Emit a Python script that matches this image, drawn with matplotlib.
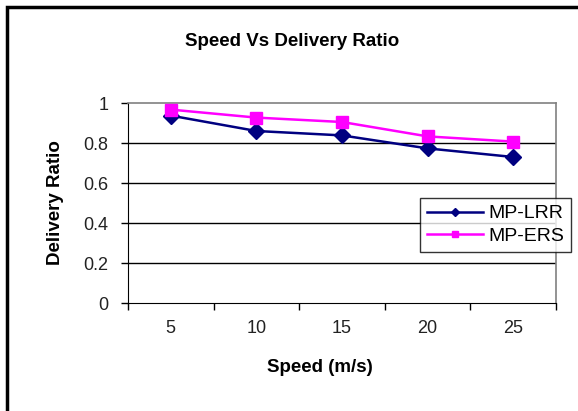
import matplotlib
matplotlib.use("Agg")
import matplotlib.pyplot as plt
from matplotlib.patches import Rectangle

speeds = ["5", "10", "15", "20", "25"]
mp_lrr = [0.937, 0.86, 0.838, 0.773, 0.73]
mp_ers = [0.967, 0.927, 0.905, 0.833, 0.807]
y_ticks = [0, 0.2, 0.4, 0.6, 0.8, 1]

plt.rcParams['font.family'] = ['Liberation Sans', 'DejaVu Sans']

W, H = 578, 411
fig = plt.figure(figsize=(W / 100, H / 100), dpi=100)
fig.patch.set_facecolor("white")

# outer black frame (runs off the right and bottom edges)
fig.patches.append(Rectangle((7 / W, -0.05), 1.1, 1 - 7 / H + 0.05,
                             transform=fig.transFigure, fill=False,
                             edgecolor="black", linewidth=2.5, zorder=0))

ax = fig.add_axes([128 / W, 1 - 303 / H, (556 - 128) / W, (303 - 103) / H])
x = list(range(len(speeds)))

ax.plot(x, mp_lrr, color="#000080", linewidth=1.8, marker="D", markersize=8,
        label="MP-LRR", zorder=3)
ax.plot(x, mp_ers, color="#FF00FF", linewidth=1.8, marker="s", markersize=9,
        label="MP-ERS", zorder=3)

ax.set_xlim(-0.5, len(speeds) - 0.5)
ax.set_ylim(0, 1)
ax.set_yticks(y_ticks)
ax.set_yticklabels([f"{v:g}" for v in y_ticks], fontsize=13, color="#222222")
ax.set_xticks(x)
ax.set_xticklabels(speeds, fontsize=13, color="#222222")
ax.tick_params(axis="x", length=0, pad=12)
ax.tick_params(axis="y", length=5, width=1, color="black", pad=9)
# category separators on the x axis
ax.set_xticks([i - 0.5 for i in range(len(speeds) + 1)], minor=True)
ax.tick_params(axis="x", which="minor", length=5, width=1, color="black", direction="out")

for v in y_ticks[1:-1]:
    ax.axhline(v, color="black", linewidth=1, zorder=1)

for side in ["top", "right"]:
    ax.spines[side].set_color("#808080")
    ax.spines[side].set_linewidth(1.2)
ax.spines["left"].set_color("black")
ax.spines["bottom"].set_color("black")

fig.text(292 / W, 1 - 41 / H, "Speed Vs Delivery Ratio", ha="center", va="center",
         fontsize=13.5, fontweight="bold")
fig.text(320 / W, 1 - 367 / H, "Speed (m/s)", ha="center", va="center",
         fontsize=13.5, fontweight="bold")
fig.text(55 / W, 1 - 203 / H, "Delivery Ratio", ha="center", va="center",
         rotation=90, fontsize=13.5, fontweight="bold")

leg = fig.legend(loc="upper left", bbox_to_anchor=(420 / W, 1 - 198 / H),
                 borderaxespad=0, fontsize=14, frameon=True, fancybox=False,
                 edgecolor="black", markerscale=0.5, handlelength=2.9,
                 borderpad=0.35, labelspacing=0.25, handletextpad=0.25)
leg.get_frame().set_linewidth(1)

fig.savefig("out.png", dpi=100)
